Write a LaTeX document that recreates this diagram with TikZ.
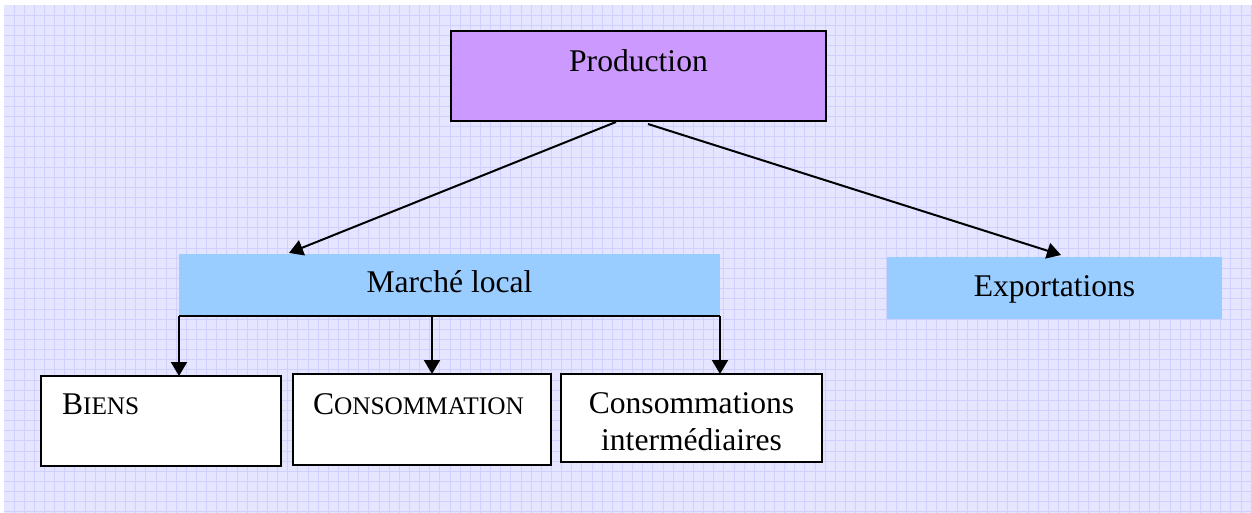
\documentclass[tikz,border=0pt]{standalone}
\usepackage{fontspec}
\setmainfont{Liberation Serif}
\usetikzlibrary{arrows.meta,calc}
\definecolor{bgc}{RGB}{229,229,255}
\definecolor{gridc}{RGB}{208,208,255}
\definecolor{prodc}{RGB}{204,153,255}
\definecolor{bluec}{RGB}{153,204,255}
\newcommand\fsc[1]{{\fontsize{25.3}{30}\selectfont #1}}
\begin{document}
\begin{tikzpicture}[x=1pt,y=-1pt,
  font=\fontsize{31.6}{37}\selectfont,
  basebox/.style={anchor=north west, inner sep=0pt, outer sep=0pt},
  prodbox/.style={basebox, draw=black, line width=2.2pt, fill=prodc},
  bluebox/.style={basebox, fill=bluec},
  whitebox/.style={basebox, draw=black, line width=2pt, fill=white},
  conn/.style={line width=2pt, -{Triangle[length=14pt,width=16pt]}}]
\useasboundingbox (0,0) rectangle (1252,513);
\fill[bgc] (4,5) rectangle (1252,513);
\foreach \i in {0,...,122}
  \draw[gridc, line width=0.9pt] ({14+10.14*\i},5) -- ({14+10.14*\i},513);
\foreach \j in {0,...,49}
  \draw[gridc, line width=0.9pt] (4,{15+10.14*\j}) -- (1252,{15+10.14*\j});

\node[prodbox, minimum width=375pt, minimum height=90pt,
      text height=41pt, text depth=49pt] (p) at (451,31) {Production};
\node[bluebox, minimum width=541pt, minimum height=62pt,
      text height=38pt, text depth=24pt] (m) at (179,254) {Marché local};
\node[bluebox, minimum width=335pt, minimum height=62pt,
      text height=39pt, text depth=23pt] (e) at (887,257) {Exportations};

\node[whitebox, minimum width=240pt, minimum height=90pt, inner xsep=21pt,
      text width=198pt, align=left, text height=38pt, text depth=52pt] (b) at (41,376) {B\fsc{IENS}};
\node[whitebox, minimum width=258pt, minimum height=91pt, inner xsep=20pt,
      text width=218pt, align=left, text height=40pt, text depth=51pt] (c) at (293,374) {C\fsc{ONSOMMATION}};
\node[whitebox, minimum width=261pt, minimum height=88pt,
      text height=39pt, text depth=49pt] (ci) at (561,374)
      {\begin{tabular}[t]{@{}c@{}}Consommations\\intermédiaires\end{tabular}};

\draw[conn] ($(p.south west)+(165,1)$) -- ($(m.north west)+(110,-1)$);
\draw[conn] ($(p.south west)+(197,3)$) -- ($(e.north west)+(174,-2)$);

\draw[line width=2pt] (m.south west) -- (m.south east);
\draw[conn] (m.south west) -- (m.south west |- b.north);
\coordinate (mmid) at ($(m.south west)+(253,0)$);
\draw[conn] (mmid) -- (mmid |- c.north);
\draw[conn] (m.south east) -- (m.south east |- ci.north);
\end{tikzpicture}
\end{document}
